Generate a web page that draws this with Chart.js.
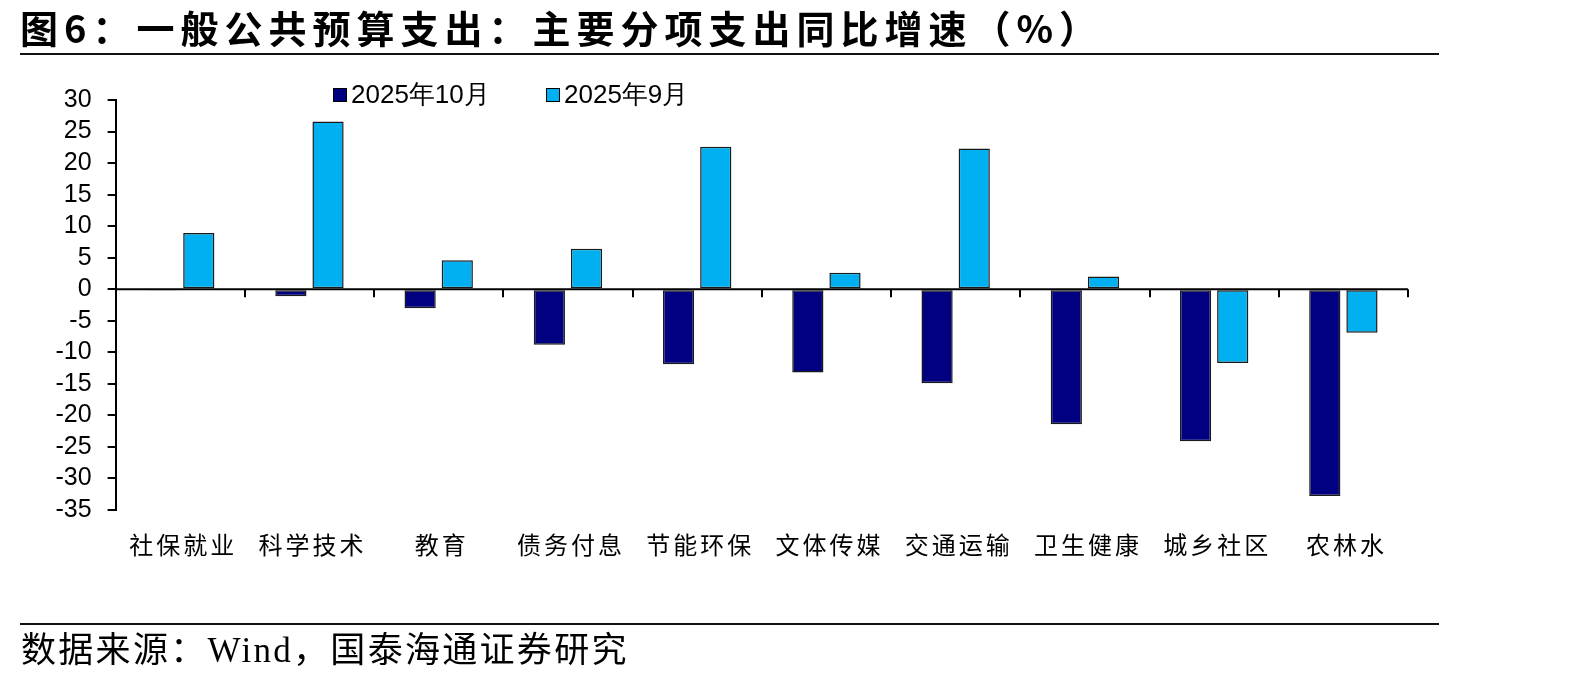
<!DOCTYPE html>
<html>
<head>
<meta charset="utf-8">
<script src="https://cdn.jsdelivr.net/npm/chart.js@4.4.1/dist/chart.umd.min.js"></script>
<style>
  html, body { margin: 0; padding: 0; background: #fff; }
  #wrap { position: relative; width: 1594px; height: 685px; overflow: hidden; background:#fff; }
  #c { position: absolute; left: 0; top: 0; }
  #title { position: absolute; left: 20px; top: 5px; font-family: "Noto Sans CJK SC", sans-serif; font-weight: 700; font-size: 38px; line-height: 44px; letter-spacing: 6px; color: #000; white-space: nowrap; }
  .rule { position: absolute; left: 20px; width: 1419px; height: 2px; background: #111; }
  #footer { position: absolute; left: 21px; top: 630px; font-family: "Liberation Serif", "Noto Sans CJK SC", serif; font-size: 35px; line-height: 42px; letter-spacing: 2.3px; color: #000; white-space: nowrap; }
  #legend { position: absolute; top: 80px; left: 333px; font-family: "Liberation Sans", Arial, sans-serif; font-size: 26px; line-height: 28px; color: #000; white-space: nowrap; }
  .li { position: absolute; top: 0; }
  .sw { position: absolute; top: 8px; left: 0; width: 12px; height: 12px; border: 1px solid #000; }
  .lt { position: absolute; left: 18px; top: 0; }
</style>
</head>
<body>
<div id="wrap">
  <canvas id="c" width="1594" height="685"></canvas>
  <div id="title">图6：一般公共预算支出：主要分项支出同比增速（%）</div>
  <div class="rule" style="top:53px"></div>
  <div id="legend"></div>
  <div class="rule" style="top:623px"></div>
  <div id="footer">数据来源：Wind，国泰海通证券研究</div>
</div>
<script>
// ---- data ----
const categories = ["社保就业","科学技术","教育","债务付息","节能环保","文体传媒","交通运输","卫生健康","城乡社区","农林水"];
const seriesNames = ["2025年10月","2025年9月"];
const oct2025 = [-0.1, -1.1, -3.0, -8.8, -11.9, -13.2, -14.9, -21.4, -24.1, -32.8];
const sep2025 = [8.9, 26.6, 4.6, 6.4, 22.6, 2.6, 22.3, 2.0, -11.7, -6.9];
const yTicks = [30,25,20,15,10,5,0,-5,-10,-15,-20,-25,-30,-35];
const seriesColors = ["#000080", "#00B0F0"];

// ---- legend (HTML) ----
const legendEl = document.getElementById('legend');
const legendOffsets = [0, 213];
seriesNames.forEach((n, i) => {
  const d = document.createElement('div');
  d.className = 'li';
  d.style.left = legendOffsets[i] + 'px';
  d.innerHTML = '<div class="sw" style="background:' + seriesColors[i] + '"></div><div class="lt">' + n + '</div>';
  legendEl.appendChild(d);
});

const axisPlugin = {
  id: 'axisPlugin',
  afterDatasetsDraw(chart) {
    const { ctx, chartArea, scales: { x, y } } = chart;
    const y0 = y.getPixelForValue(0);
    ctx.save();
    ctx.strokeStyle = '#000';
    ctx.lineWidth = 2;
    ctx.beginPath();
    ctx.moveTo(chartArea.left, y0);
    ctx.lineTo(chartArea.right, y0);
    ctx.stroke();
    const n = chart.data.labels.length;
    const half = (x.getPixelForValue(1) - x.getPixelForValue(0)) / 2;
    ctx.beginPath();
    for (let i = 0; i < n; i++) {
      const bx = Math.round(x.getPixelForValue(i) + half);
      ctx.moveTo(bx, y0);
      ctx.lineTo(bx, y0 + 8);
    }
    ctx.stroke();
    // category labels
    ctx.fillStyle = '#000';
    ctx.font = '24px "Noto Sans CJK SC"';
    ctx.textAlign = 'center';
    ctx.textBaseline = 'middle';
    try { ctx.letterSpacing = '3px'; } catch (e) {}
    chart.data.labels.forEach((lab, i) => {
      ctx.fillText(lab, x.getPixelForValue(i) + 3, chartArea.bottom + 35);
    });
    try { ctx.letterSpacing = '0px'; } catch (e) {}
    ctx.restore();
  }
};

new Chart(document.getElementById('c'), {
  type: 'bar',
  data: {
    labels: categories,
    datasets: [
      { label: seriesNames[0], data: oct2025, backgroundColor: seriesColors[0], borderColor: '#1a1a1a', borderWidth: 1.5, borderSkipped: false, barPercentage: 0.84, categoryPercentage: 0.575 },
      { label: seriesNames[1], data: sep2025, backgroundColor: seriesColors[1], borderColor: '#1a1a1a', borderWidth: 1.5, borderSkipped: false, barPercentage: 0.84, categoryPercentage: 0.575 }
    ]
  },
  options: {
    responsive: false,
    animation: false,
    devicePixelRatio: 1,
    layout: { padding: { left: 0, right: 186, top: 100, bottom: 0 } },
    plugins: { legend: { display: false }, tooltip: { enabled: false }, title: { display: false } },
    scales: {
      x: {
        offset: true,
        grid: { display: false },
        border: { display: false },
        ticks: { display: false },
        afterFit(scale) { scale.height = 175; }
      },
      y: {
        min: -35, max: 30,
        afterBuildTicks(scale) { scale.ticks = yTicks.map(v => ({ value: v })); },
        ticks: { color: '#000', font: { family: 'Liberation Sans', size: 25 }, padding: 16, autoSkip: false, stepSize: 5 },
        grid: { display: true, drawOnChartArea: false, drawTicks: true, tickLength: 8, color: '#000', lineWidth: 2 },
        border: { display: true, color: '#000', width: 2 },
        afterFit(scale) { scale.width = 115.6; }
      }
    }
  },
  plugins: [axisPlugin]
});
</script>
</body>
</html>
